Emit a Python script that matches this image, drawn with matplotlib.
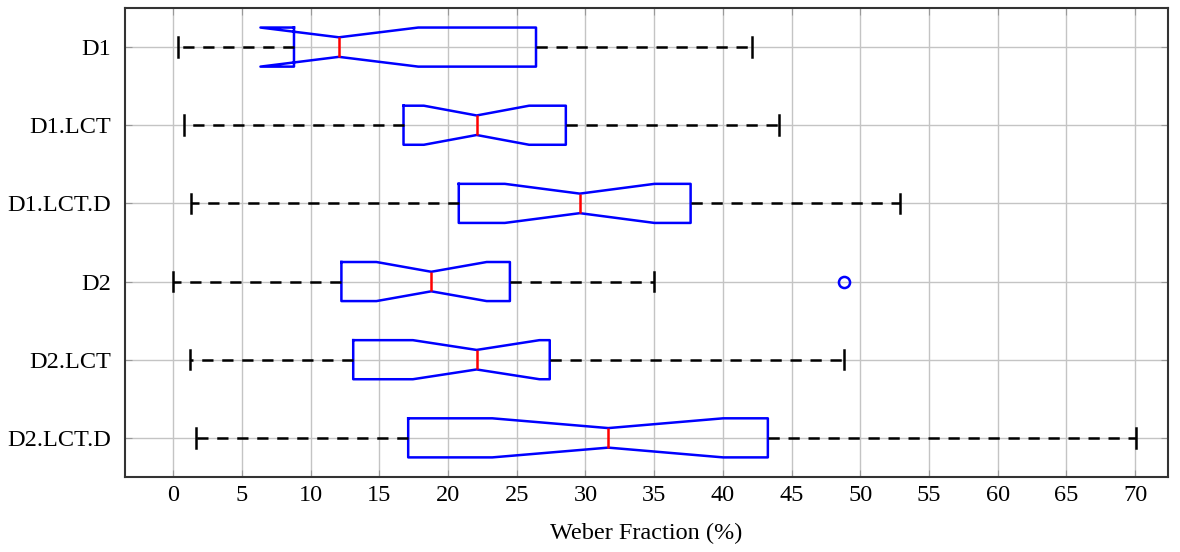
import numpy as np
import matplotlib.pyplot as plt

labels = ["D1", "D1.LCT", "D1.LCT.D", "D2", "D2.LCT", "D2.LCT.D"]
whislo = [0.36, 0.77, 1.29, 0.0, 1.26, 1.68]
q1 = [8.79, 16.76, 20.78, 12.24, 13.10, 17.10]
cilo = [6.35, 18.24, 24.13, 14.79, 17.44, 23.22]
med = [12.06, 22.08, 29.59, 18.78, 22.08, 31.66]
cihi = [17.83, 25.90, 35.02, 22.81, 26.65, 40.02]
q3 = [26.40, 28.57, 37.65, 24.50, 27.40, 43.27]
whishi = [42.1, 44.1, 52.9, 35.0, 48.8, 70.03]
fliers = [[], [], [], [48.79], [], []]

plt.rcParams['font.family'] = ['Liberation Serif', 'DejaVu Serif']

stats = []
for i in range(len(labels)):
    stats.append(dict(label=labels[i], whislo=whislo[i], q1=q1[i], cilo=cilo[i],
                      med=med[i], cihi=cihi[i], q3=q3[i], whishi=whishi[i],
                      fliers=fliers[i]))

fig = plt.figure(figsize=(11.8, 5.52), dpi=100)
ax = fig.add_axes([0.106, 0.136, 0.884, 0.8495])

ax.bxp(stats, positions=np.arange(1, len(labels) + 1), vert=False, shownotches=True,
       widths=0.5,
       boxprops=dict(color='#0000ff', linewidth=1.8),
       medianprops=dict(color='#ff0000', linewidth=1.8),
       whiskerprops=dict(color='black', linewidth=1.8, linestyle=(0, (4.5, 3.5))),
       capprops=dict(color='black', linewidth=1.8),
       flierprops=dict(marker='o', markerfacecolor='none', markeredgecolor='#0000ff',
                       markersize=8, markeredgewidth=1.8))

ax.set_xlim(-3.5, 72.4)
ax.set_ylim(6.5, 0.5)
ax.set_xticks(np.arange(0, 71, 5))
ax.set_yticks(np.arange(1, len(labels) + 1))
ax.set_yticklabels(labels)
ax.grid(True, color='#c4c4c4', linewidth=1)
ax.set_axisbelow(True)
ax.tick_params(direction='in', length=5, color='#999999', top=True, right=True,
               labelsize=17.5)
ax.tick_params(axis='y', pad=10)
ax.tick_params(axis='x', pad=6)
for s in ax.spines.values():
    s.set_linewidth(1.5)
    s.set_color('#333333')
ax.set_xlabel("Weber Fraction (%)", fontsize=17.5, labelpad=12)

fig.savefig("out.png", dpi=100)
